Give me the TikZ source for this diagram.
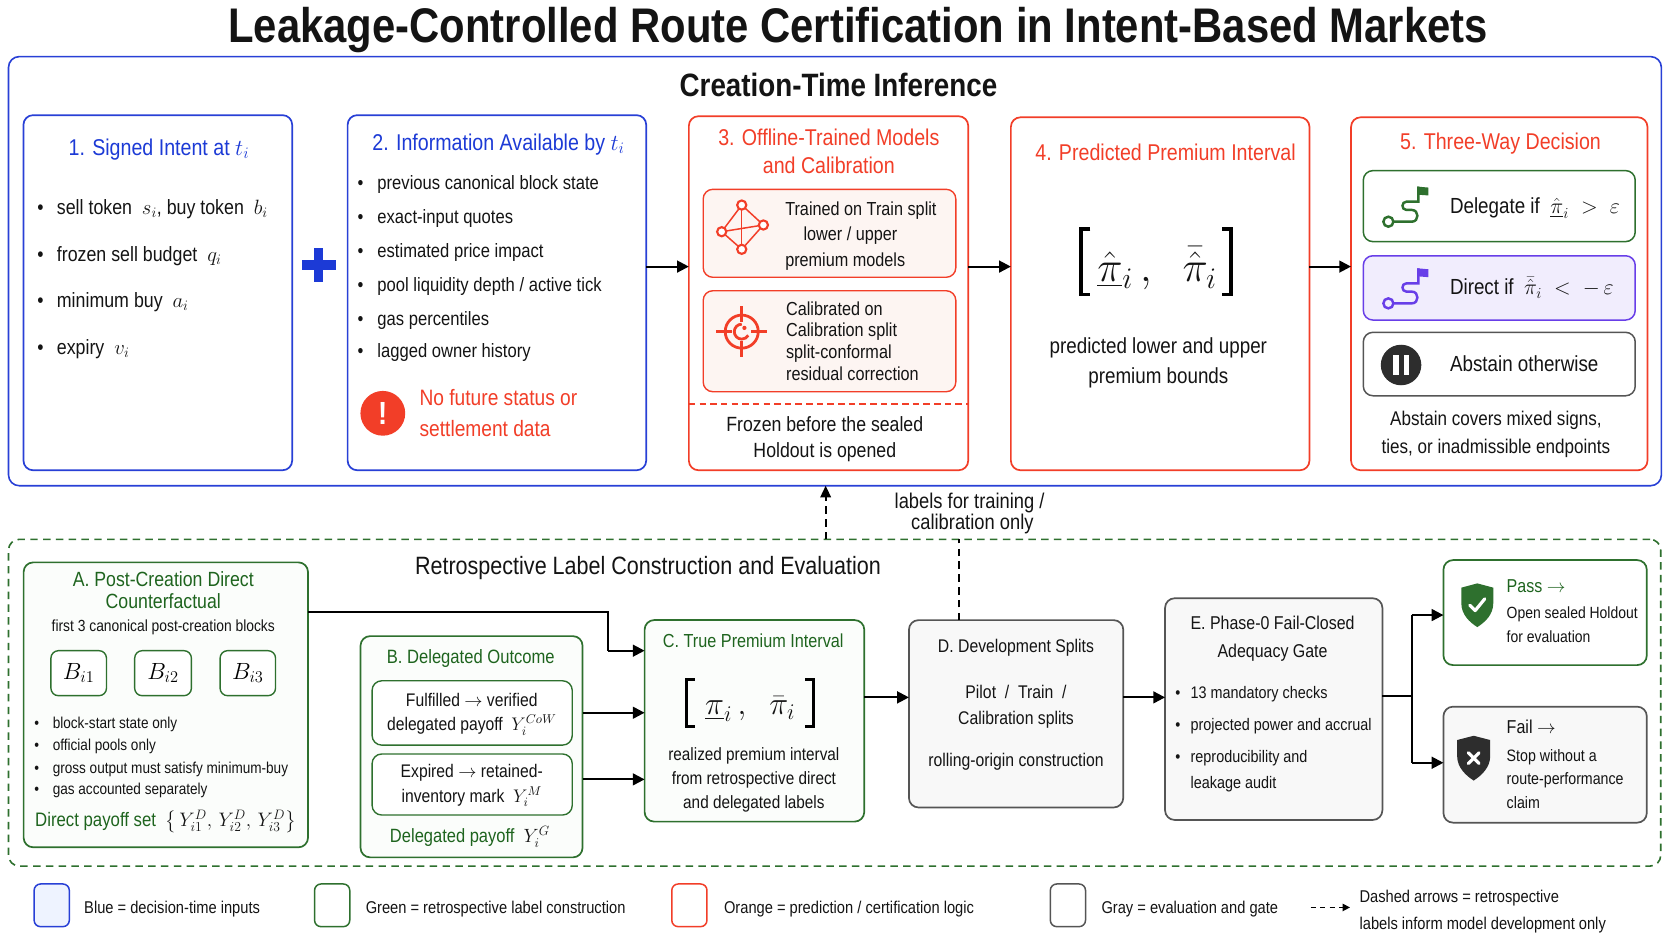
\RequirePackage{fix-cm}
\documentclass[tikz,border=0pt]{standalone}
\usepackage{amsmath}
\usepackage{fontspec}
\setmainfont{Liberation Sans}[FakeStretch=0.86]
\usetikzlibrary{arrows.meta,calc}
\definecolor{cblue}{RGB}{40,64,214}
\definecolor{cbluet}{RGB}{28,58,214}
\definecolor{cred}{RGB}{242,62,40}
\definecolor{cgreen}{RGB}{46,112,46}
\definecolor{cgreent}{RGB}{30,100,30}
\definecolor{cpurple}{RGB}{104,62,232}
\definecolor{clav}{RGB}{241,237,253}
\definecolor{cgray}{RGB}{85,85,85}
\definecolor{cpeach}{RGB}{253,245,242}
\definecolor{cgfill}{RGB}{248,248,248}
\definecolor{cafill}{RGB}{251,253,251}
\definecolor{clb}{RGB}{238,243,255}
\definecolor{ctext}{RGB}{20,20,20}
\definecolor{cdark}{RGB}{45,45,45}
\newcommand\fs[1]{\fontsize{#1}{#1}\selectfont}
\newcommand\mybul[1]{\makebox[#1][l]{\textbullet}}
\begin{document}
\begin{tikzpicture}[x=1pt,y=-1pt,
  box/.style={rounded corners=9pt,line width=1.6pt,inner sep=0pt,outer sep=0pt},
  bbox/.style={box,draw=cblue,fill=white},
  rbox/.style={box,draw=cred,fill=white},
  gbox/.style={box,draw=cgreen,fill=white},
  kbox/.style={box,draw=cgray,fill=cgfill},
  arr/.style={line width=2pt,-{Triangle[length=11pt,width=11pt]}},
  darr/.style={line width=1.6pt,dash pattern=on 7pt off 5pt},
  txt/.style={inner sep=0pt,outer sep=0pt,text=ctext},
  ct/.style={txt,anchor=base,font=\fs{#1},yshift=-0.3*#1},
  lt/.style={txt,anchor=base west,font=\fs{#1},yshift=-0.3*#1},
  brk/.style={line width=3.4pt,line cap=butt,line join=miter}]
\useasboundingbox (0,0) rectangle (1568,882.4);
\fill[white] (0,0) rectangle (1568,882.4);

% ---------- title ----------
\node[txt,anchor=base,font=\fs{45.6}\bfseries] (title) at (804.7,40) {Leakage-Controlled Route Certification in Intent-Based Markets};

% ---------- top container ----------
\node[box,draw=cblue,line width=1.5pt,rounded corners=10pt,minimum width=1550,minimum height=402.4] (top) at (783,254.3) {};
\node[ct=30.3,font=\fs{30.3}\bfseries] (toptitle) at (786.3,81.5) {Creation-Time Inference};

\node[bbox,minimum width=252,minimum height=333] (b1) at (148,274.5) {};
\node[bbox,minimum width=280,minimum height=333] (b2) at (466,274.5) {};
\node[rbox,minimum width=262,minimum height=332] (b3) at (777,275) {};
\node[rbox,minimum width=280,minimum height=331] (b4) at (1088,275.5) {};
\node[rbox,minimum width=278,minimum height=331] (b5) at (1406,275.5) {};

% box 1
\node[ct=21.4,text=cbluet] (h1) at (149,139.1) {1. Signed Intent at $t_i$};
\node[lt=19.4] (p11) at (35,195.4) {\mybul{18.4pt}sell token \ $s_i$, buy token \ $b_i$};
\node[lt=19.4] (p12) at (35,239.1) {\mybul{18.4pt}frozen sell budget \ $q_i$};
\node[lt=19.4] (p13) at (35,282.9) {\mybul{18.4pt}minimum buy \ $a_i$};
\node[lt=19.4] (p14) at (35,326.7) {\mybul{18.4pt}expiry \ $v_i$};

% plus
\fill[cbluet] (282.8,244) rectangle (314.8,253);
\fill[cbluet] (294.3,232.5) rectangle (303.3,264.5);

% box 2
\node[ct=21.4,text=cbluet] (h2) at (467.5,134.4) {2. Information Available by $t_i$};
\node[lt=18.1] (p21) at (335.4,171.9) {\mybul{18.6pt}previous canonical block state};
\node[lt=18.1] (p22) at (335.4,203.8) {\mybul{18.6pt}exact-input quotes};
\node[lt=18.1] (p23) at (335.4,236) {\mybul{18.6pt}estimated price impact};
\node[lt=18.1] (p24) at (335.4,268.2) {\mybul{18.6pt}pool liquidity depth / active tick};
\node[lt=18.1] (p25) at (335.4,300.1) {\mybul{18.6pt}gas percentiles};
\node[lt=18.1] (p26) at (335.4,329.8) {\mybul{18.6pt}lagged owner history};
\node[circle,fill=cred,minimum size=42pt,inner sep=0pt,font=\fs{30}\bfseries,text=white] (warn) at (359,387.6) {!};
\node[lt=20.9,text=cred] (w1) at (393.5,374.2) {No future status or};
\node[lt=20.9,text=cred] (w2) at (393.5,403.3) {settlement data};

% box 3
\node[ct=21.4,text=cred] (h3a) at (777.3,129.7) {3. Offline-Trained Models};
\node[ct=21.4,text=cred] (h3b) at (777.3,156.3) {and Calibration};
\node[box,draw=cred,fill=cpeach,line width=1.3pt,minimum width=236.9,minimum height=82.5] (i3a) at (777.9,218.8) {};
\node[box,draw=cred,fill=cpeach,line width=1.3pt,minimum width=236.9,minimum height=94.7] (i3b) at (777.9,320) {};
\node[lt=17.7] (t3a1) at (736.4,197) {Trained on Train split};
\node[ct=17.7] (t3a2) at (797.6,220.4) {lower / upper};
\node[lt=17.7] (t3a3) at (736.4,244.5) {premium models};
\node[lt=17.7] (t3b1) at (737.2,290.1) {Calibrated on};
\node[lt=17.7] (t3b2) at (737.2,310.1) {Calibration split};
\node[lt=17.7] (t3b3) at (737.2,330.8) {split-conformal};
\node[lt=17.7] (t3b4) at (737.2,351.7) {residual correction};
\coordinate (d378) at (0,378.9);
\draw[cred,line width=1.3pt,dash pattern=on 6pt off 4pt] (b3.west |- d378) -- (b3.east |- d378);
\node[ct=19.3] (fz1) at (773.5,398.6) {Frozen before the sealed};
\node[ct=19.3] (fz2) at (773.5,423) {Holdout is opened};
% network icon
\begin{scope}[cred,line width=1.4pt]
\coordinate (nt) at (695.6,192.3);
\coordinate (nl) at (676.8,217.3);
\coordinate (nr) at (715.9,211);
\coordinate (nb) at (695.6,233.8);
\draw (nt) -- (nl) -- (nb) -- (nr) -- cycle;
\draw (nt) -- (nb);
\draw (nl) -- (nr);
\foreach \p in {nt,nl,nr,nb} \draw[fill=white,line width=2pt] (\p) circle[radius=4.3];
\end{scope}
% target icon
\begin{scope}[shift={(695.6,311)},cred,line width=2.6pt]
\draw (0,0) circle[radius=15.5];
\draw (-24,0) -- (-9,0);
\draw (9,0) -- (24,0);
\draw (0,-24) -- (0,-9);
\draw (0,9) -- (0,24);
\draw (0,-7) arc[start angle=-90,end angle=-330,radius=7];
\fill (2.5,-3.5) circle[radius=2];
\end{scope}

% box 4
\node[ct=21.4,text=cred] (h4) at (1093,143.8) {4. Predicted Premium Interval};
\node[txt,anchor=base,font=\fs{40}] (f4) at (1085,264.2) {$\underline{\hat{\pi}}_{i}\,,\;\;\bar{\hat{\pi}}_{i}$};
\draw[brk] (1022.5,214.5) -- (1014,214.5) -- (1014,276.2) -- (1022.5,276.2);
\draw[brk] (1146,214.5) -- (1154.5,214.5) -- (1154.5,276.2) -- (1146,276.2);
\node[ct=20.5] (t41) at (1086.3,325.1) {predicted lower and upper};
\node[ct=20.5] (t42) at (1086.3,353.2) {premium bounds};

% box 5
\node[ct=21.4,text=cred] (h5) at (1407.2,133.8) {5. Three-Way Decision};
\node[box,draw=cgreen,fill=white,line width=1.4pt,minimum width=255,minimum height=66.6] (del) at (1406,193.3) {};
\node[box,draw=cpurple,fill=clav,line width=1.4pt,minimum width=255,minimum height=60.3] (dir) at (1406,270) {};
\node[box,draw=cgray,fill=white,line width=1.4pt,minimum width=255,minimum height=59.5] (abs) at (1406,341.4) {};
\node[lt=20.5] (tdel) at (1359.8,193.8) {Delegate if \ $\underline{\hat{\pi}}_i\;>\;\varepsilon$};
\node[lt=20.5] (tdir) at (1359.8,270.4) {Direct if \ $\bar{\hat{\pi}}_i\;<\;-\,\varepsilon$};
\node[lt=20.5] (tabs) at (1359.8,342.3) {Abstain otherwise};
\node[ct=18.6] (t51) at (1402.8,393.3) {Abstain covers mixed signs,};
\node[ct=18.6] (t52) at (1402.8,419.8) {ties, or inadmissible endpoints};
% flag icons
\foreach \c/\dy in {cgreen/0,cpurple/76.6}{
\begin{scope}[shift={(1302,207.9+\dy)},\c,line width=2.3pt]
\draw (0,0) circle[radius=4.7];
\draw (4.7,0) -- (22,0) .. controls (29,0) and (29,-11) .. (22,-11) -- (17,-11) .. controls (12,-11) and (12,-18.8) .. (17,-18.8) -- (28.1,-18.8) -- (28.1,-32.9);
\fill (27,-32.9) -- (37.5,-32) -- (37.5,-24.6) -- (28.1,-25.3) -- cycle;
\end{scope}}
% pause icon
\fill[cdark] (1313.9,342.3) circle[radius=19];
\fill[white] (1306.5,333) rectangle (1311.5,351.6);
\fill[white] (1316.3,333) rectangle (1321.3,351.6);

% arrows top
\coordinate (y250) at (0,250);
\draw[arr] (b2.east |- y250) -- (b3.west |- y250);
\draw[arr] (b3.east |- y250) -- (b4.west |- y250);
\draw[arr] (b4.east |- y250) -- (b5.west |- y250);

% ---------- bottom container ----------
\node[box,draw=cgreen,line width=1.5pt,rounded corners=10pt,dash pattern=on 7pt off 5pt,minimum width=1549.4,minimum height=306.4] (bot) at (782.7,659) {};
\node[ct=23.5] (bottitle) at (607.7,531.4) {Retrospective Label Construction and Evaluation};

% dashed label arrows
\coordinate (g1) at (774.3,505.8);
\coordinate (g2) at (899.3,505.8);
\draw[darr,-{Triangle[length=11pt,width=10pt]}] (g1) -- (top.south -| g1);
\node[ct=20] (lab1) at (909.3,471) {labels for training /};
\node[ct=20] (lab2) at (911.9,490.8) {calibration only};

% box A
\node[box,draw=cgreen,fill=cafill,minimum width=266.7,minimum height=267.2] (A) at (155.5,661) {};
\node[ct=19.3,text=cgreent] (hA1) at (153.1,544) {A. Post-Creation Direct};
\node[ct=19.3,text=cgreent] (hA2) at (153.1,565.2) {Counterfactual};
\node[ct=15.1] (sA) at (153.1,587.7) {first 3 canonical post-creation blocks};
\node[box,draw=cgreen,fill=white,line width=1.3pt,rounded corners=7pt,minimum width=52.1,minimum height=42.2,font=\fs{22}] (B1) at (73.8,631.3) {$B_{i1}$};
\node[box,draw=cgreen,fill=white,line width=1.3pt,rounded corners=7pt,minimum width=53.2,minimum height=42.2,font=\fs{22}] (B2) at (152.9,631.3) {$B_{i2}$};
\node[box,draw=cgreen,fill=white,line width=1.3pt,rounded corners=7pt,minimum width=52,minimum height=42.2,font=\fs{22}] (B3) at (232.4,631.3) {$B_{i3}$};
\node[lt=14.8] (pA1) at (32.2,678.4) {\mybul{17.3pt}block-start state only};
\node[lt=14.8] (pA2) at (32.2,699.6) {\mybul{17.3pt}official pools only};
\node[lt=14.8] (pA3) at (32.2,720.6) {\mybul{17.3pt}gross output must satisfy minimum-buy};
\node[lt=14.8] (pA4) at (32.2,740.9) {\mybul{17.3pt}gas accounted separately};
\node[lt=18.3] (payA) at (33,770) {\textcolor{cgreent}{Direct payoff set} \ $\left\{\,Y^D_{i1},\,Y^D_{i2},\,Y^D_{i3}\right\}$};

% box B
\node[box,draw=cgreen,fill=cafill,minimum width=208.2,minimum height=207.5] (B) at (442.2,700.3) {};
\node[ct=18.1,text=cgreent] (hB) at (441.5,616.8) {B. Delegated Outcome};
\node[box,draw=cgreen,fill=white,line width=1.3pt,minimum width=187.7,minimum height=60.3] (Bi1) at (442.8,668.6) {};
\node[box,draw=cgreen,fill=white,line width=1.3pt,minimum width=187.7,minimum height=57.2] (Bi2) at (442.8,735.7) {};
\node[ct=17.1] (tB1) at (442.4,657.1) {Fulfilled $\rightarrow$ verified};
\node[ct=17.1] (tB2) at (442.4,680) {delegated payoff \ $Y_i^{CoW}$};
\node[ct=17.1] (tB3) at (442.4,723.7) {Expired $\rightarrow$ retained-};
\node[ct=17.1] (tB4) at (442.4,747.1) {inventory mark \ $Y_i^M$};
\node[ct=18] (payB) at (440.6,784.7) {\textcolor{cgreent}{Delegated payoff} \ $Y_i^G$};

% box C
\node[box,draw=cgreen,fill=cafill,minimum width=206,minimum height=189] (C) at (707.5,676) {};
\node[ct=17.7,text=cgreent] (hC) at (706.4,601.8) {C. True Premium Interval};
\node[txt,anchor=base,font=\fs{30}] (fC) at (703.5,670.5) {$\underline{\pi}_{i}\,,\;\;\bar{\pi}_{i}$};
\draw[brk,line width=3pt] (651.4,637.3) -- (644,637.3) -- (644,681.3) -- (651.4,681.3);
\draw[brk,line width=3pt] (755.3,637.3) -- (762.7,637.3) -- (762.7,681.3) -- (755.3,681.3);
\node[ct=16.7] (tC1) at (707,708) {realized premium interval};
\node[ct=16.7] (tC2) at (707,730.9) {from retrospective direct};
\node[ct=16.7] (tC3) at (707,752.8) {and delegated labels};

% box D
\node[kbox,minimum width=201,minimum height=175.7] (D) at (952.9,669.4) {};
\node[ct=17.2] (hD) at (952.8,606.5) {D. Development Splits};
\node[ct=17.2] (tD1) at (952.8,650.2) {Pilot \ / \ Train \ /};
\node[ct=17.2] (tD2) at (952.8,674.6) {Calibration splits};
\node[ct=17.2] (tD3) at (952.8,713.7) {rolling-origin construction};
\draw[darr] (D.north -| g2) -- (g2);

% box E
\node[kbox,minimum width=203.8,minimum height=207.9] (E) at (1194.5,665) {};
\node[ct=17.4] (hE1) at (1193.4,585.2) {E. Phase-0 Fail-Closed};
\node[ct=17.4] (hE2) at (1193.4,611.2) {Adequacy Gate};
\node[lt=15.7] (pE1) at (1102.3,650.8) {\mybul{14.3pt}13 mandatory checks};
\node[lt=15.7] (pE2) at (1102.3,680.6) {\mybul{14.3pt}projected power and accrual};
\node[lt=15.7] (pE3) at (1102.3,710.2) {\mybul{14.3pt}reproducibility and};
\node[lt=15.7] (pE4) at (1116.6,734.6) {leakage audit};

% pass / fail
\node[box,draw=cgreen,fill=white,minimum width=190.7,minimum height=98.5] (pass) at (1449,574.5) {};
\node[kbox,minimum width=190.7,minimum height=108.8] (fail) at (1449,717.1) {};
\node[lt=17.5,text=cgreent] (tp1) at (1413,550.2) {Pass $\to$};
\node[lt=15.2] (tp2) at (1413,575.2) {Open sealed Holdout};
\node[lt=15.2] (tp3) at (1413,597.7) {for evaluation};
\node[lt=17.5] (tf1) at (1413,683) {Fail $\to$};
\node[lt=15.5] (tf2) at (1413,709.6) {Stop without a};
\node[lt=15.5] (tf3) at (1413,731.5) {route-performance};
\node[lt=15.5] (tf4) at (1413,753.4) {claim};
% shields
\begin{scope}[shift={(1385.4,567.6)}]
\fill[cgreen] (-15,-16.5) -- (0,-20.5) -- (15,-16.5) -- (15,-2) .. controls (15,9) and (7,16) .. (0,20.5) .. controls (-7,16) and (-15,9) .. (-15,-2) -- cycle;
\draw[white,line width=3pt,line cap=round,line join=round] (-7,0) -- (-2,5) -- (7,-6);
\end{scope}
\begin{scope}[shift={(1382,711)}]
\fill[cdark] (-15.5,-17) -- (0,-21) -- (15.5,-17) -- (15.5,-2) .. controls (15.5,9) and (7,16.5) .. (0,21) .. controls (-7,16.5) and (-15.5,9) .. (-15.5,-2) -- cycle;
\draw[white,line width=3pt,line cap=round] (-5,-5) -- (5,5);
\draw[white,line width=3pt,line cap=round] (-5,5) -- (5,-5);
\end{scope}

% bottom arrows
\coordinate (jA) at (570.1,573.6);
\coordinate (jA2) at (570.1,610.2);
\draw[line width=2pt] (A.east |- jA) -- (jA) -- (jA2);
\draw[arr] (jA2) -- (C.west |- jA2);
\coordinate (yb1) at (0,668.4);
\coordinate (yb2) at (0,730.9);
\draw[arr] (B.east |- yb1) -- (C.west |- yb1);
\draw[arr] (B.east |- yb2) -- (C.west |- yb2);
\coordinate (y654) at (0,654);
\draw[arr] (C.east |- y654) -- (D.west |- y654);
\draw[arr] (D.east |- y654) -- (E.west |- y654);
\coordinate (sp) at (1323.9,652.4);
\coordinate (spu) at (1323.9,576.8);
\coordinate (spd) at (1323.9,715.3);
\draw[line width=2pt] (E.east |- sp) -- (sp);
\draw[line width=2pt] (spu) -- (spd);
\draw[arr] (spu) -- (pass.west |- spu);
\draw[arr] (spd) -- (fail.west |- spd);

% ---------- legend ----------
\node[box,draw=cblue,fill=clb,line width=1.4pt,rounded corners=6pt,minimum width=33,minimum height=40] (lg1) at (48.5,849) {};
\node[box,draw=cgreen,fill=white,line width=1.4pt,rounded corners=6pt,minimum width=33,minimum height=40] (lg2) at (311.5,849) {};
\node[box,draw=cred,fill=white,line width=1.4pt,rounded corners=6pt,minimum width=33,minimum height=40] (lg3) at (646.5,849) {};
\node[box,draw=cgray,fill=white,line width=1.4pt,rounded corners=6pt,minimum width=33,minimum height=40] (lg4) at (1001.5,849) {};
\node[lt=16] (lt1) at (79,852) {Blue = decision-time inputs};
\node[lt=16] (lt2) at (343,852) {Green = retrospective label construction};
\node[lt=16] (lt3) at (679,852) {Orange = prediction / certification logic};
\node[lt=16] (lt4) at (1033,852) {Gray = evaluation and gate};
\coordinate (la1) at (1229,851);
\coordinate (la2) at (1266,851);
\draw[line width=1.4pt,dash pattern=on 5pt off 4pt,-{Triangle[length=7pt,width=7pt]}] (la1) -- (la2);
\node[lt=16] (lt5) at (1275,841.5) {Dashed arrows = retrospective};
\node[lt=16] (lt6) at (1275,866.8) {labels inform model development only};
\end{tikzpicture}
\end{document}
